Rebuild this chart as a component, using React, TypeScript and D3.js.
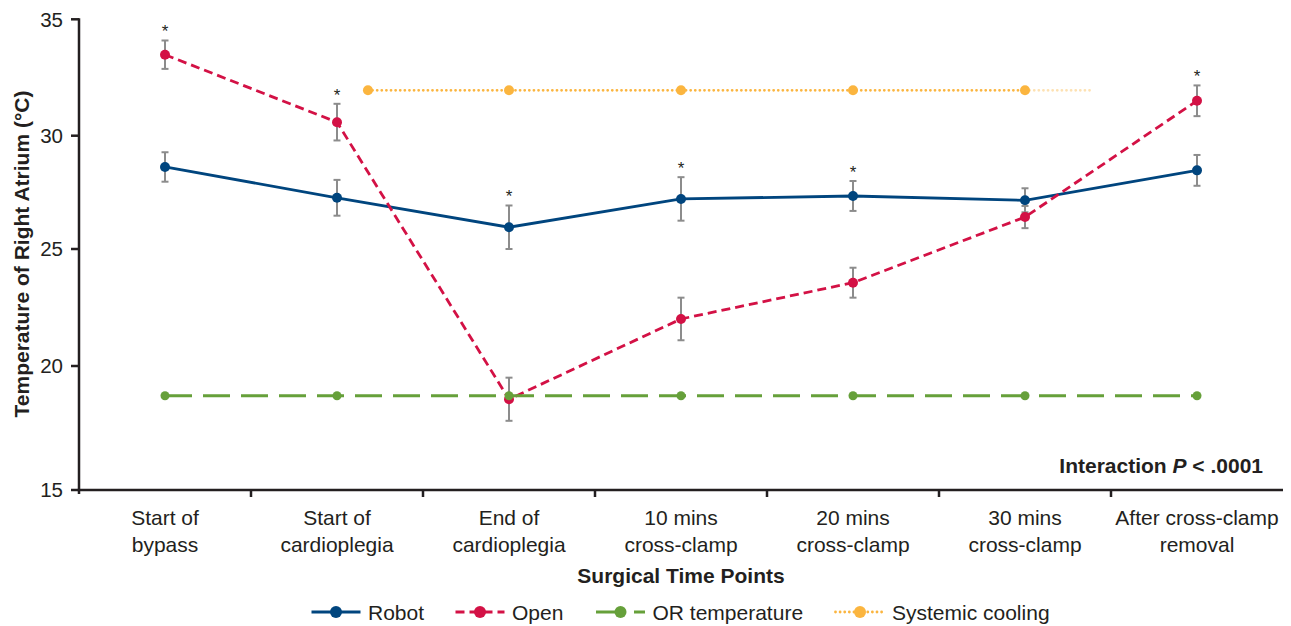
import React from 'react';
import * as d3 from 'd3';

const categories: string[][] = [
  ['Start of', 'bypass'],
  ['Start of', 'cardioplegia'],
  ['End of', 'cardioplegia'],
  ['10 mins', 'cross-clamp'],
  ['20 mins', 'cross-clamp'],
  ['30 mins', 'cross-clamp'],
  ['After cross-clamp', 'removal'],
];
const robotMean = [28.62, 27.26, 25.96, 27.21, 27.34, 27.15, 28.47];
const robotErr = [0.65, 0.79, 0.96, 0.96, 0.66, 0.53, 0.68];
const openMean = [33.48, 30.58, 18.66, 22.01, 23.56, 26.41, 31.5];
const openErr = [0.61, 0.79, 0.87, 0.91, 0.64, 0.49, 0.66];
const orTemp = [18.8, 18.8, 18.8, 18.8, 18.8, 18.8, 18.8];
const coolingPos = [1.18, 2, 3, 4, 5];
const coolingVal = [31.95, 31.95, 31.95, 31.95, 31.95];
const coolingTailPos = [5, 5.39];
const coolingTailVal = [31.95, 31.95];
const significant = [0, 1, 2, 3, 4, 6];
const yTicks = [15, 20, 25, 30, 35];

const FONT = '"Liberation Sans", Arial, Helvetica, sans-serif';
const TXT = '#231f20';
const C_ROBOT = '#00457e';
const C_OPEN = '#d31145';
const C_OR = '#66a03a';
const C_COOL = '#fbb53f';
const C_ERR = '#8c8c8c';

export default function App() {
  const x = d3.scaleLinear().domain([-0.5, 6.5]).range([79, 1283]);
  const y = d3.scaleLinear().domain(yTicks).range([490, 366, 249, 135.7, 19.3]);
  const line = d3.line<[number, number]>().x((d) => x(d[0])).y((d) => y(d[1]));
  const idx = categories.map((_, i) => i);

  const robotPts: [number, number][] = idx.map((i) => [i, robotMean[i]]);
  const openPts: [number, number][] = idx.map((i) => [i, openMean[i]]);
  const orPts: [number, number][] = idx.map((i) => [i, orTemp[i]]);
  const coolPts: [number, number][] = coolingPos.map((p, i) => [p, coolingVal[i]]);
  const coolTail: [number, number][] = coolingTailPos.map((p, i) => [p, coolingTailVal[i]]);

  const errBars = (mean: number[], err: number[], key: string) =>
    idx.map((i) => {
      const cx = x(i);
      const y1 = y(mean[i] + err[i]);
      const y2 = y(mean[i] - err[i]);
      return (
        <g key={key + i} stroke={C_ERR} strokeWidth={2}>
          <line x1={cx} x2={cx} y1={y1} y2={y2} />
          <line x1={cx - 3.5} x2={cx + 3.5} y1={y1} y2={y1} />
          <line x1={cx - 3.5} x2={cx + 3.5} y1={y2} y2={y2} />
        </g>
      );
    });

  const legendItems = [
    { label: 'Robot', color: C_ROBOT, dash: undefined as string | undefined, r: 6, x0: 311.5, cap: 'butt', w: 2.8 },
    { label: 'Open', color: C_OPEN, dash: '9,5', r: 6, x0: 455.5, cap: 'butt', w: 2.8 },
    { label: 'OR temperature', color: C_OR, dash: '27,11', r: 6, x0: 596, cap: 'butt', w: 2.8 },
    { label: 'Systemic cooling', color: C_COOL, dash: '0.01,4.6', r: 6, x0: 835.5, cap: 'round', w: 2.8 },
  ];

  return (
    <svg
      width={1291}
      height={626}
      style={{ position: 'absolute', left: 0, top: 0, background: '#fff' }}
      fontFamily={FONT}
    >
      <rect x={0} y={0} width={1291} height={626} fill="#fff" />

      {/* Axes */}
      <g stroke={TXT} strokeWidth={2.5} fill="none">
        <line x1={x(-0.5)} x2={x(-0.5)} y1={y(35) - 1} y2={y(15) + 4} />
        <line x1={x(-0.5) - 1.2} x2={x(6.5)} y1={y(15)} y2={y(15)} />
        {yTicks.map((t) => (
          <line key={'yt' + t} x1={x(-0.5) - 8} x2={x(-0.5)} y1={y(t)} y2={y(t)} />
        ))}
        {[0.5, 1.5, 2.5, 3.5, 4.5, 5.5].map((b) => (
          <line key={'xt' + b} x1={x(b)} x2={x(b)} y1={y(15)} y2={y(15) + 7} />
        ))}
      </g>
      {yTicks.map((t) => (
        <text key={'yl' + t} x={63} y={y(t)} dy="0.36em" textAnchor="end" fontSize={20.5} fill={TXT}>
          {t}
        </text>
      ))}
      {categories.map((c, i) => (
        <text key={'xl' + i} x={x(i)} textAnchor="middle" fontSize={21} fill={TXT}>
          <tspan x={x(i)} y={525}>{c[0]}</tspan>
          <tspan x={x(i)} y={552}>{c[1]}</tspan>
        </text>
      ))}
      <text x={x(3)} y={583} textAnchor="middle" fontSize={21} fontWeight="bold" fill={TXT}>
        Surgical Time Points
      </text>
      <text
        transform="translate(29,254) rotate(-90)"
        textAnchor="middle"
        fontSize={21}
        fontWeight="bold"
        fill={TXT}
      >
        Temperature of Right Atrium (°C)
      </text>
      <text x={1263} y={473} textAnchor="end" fontSize={21} fontWeight="bold" fill={TXT}>
        Interaction <tspan fontStyle="italic">P</tspan> {'< .0001'}
      </text>

      {/* Systemic cooling */}
      <path d={line(coolTail) || ''} fill="none" stroke={C_COOL} strokeOpacity={0.4} strokeWidth={2.8} strokeDasharray="0.01,4.6" strokeLinecap="round" />
      <path d={line(coolPts) || ''} fill="none" stroke={C_COOL} strokeWidth={2.8} strokeDasharray="0.01,4.6" strokeLinecap="round" />
      {coolPts.map((p, i) => (
        <circle key={'cc' + i} cx={x(p[0])} cy={y(p[1])} r={5} fill={C_COOL} />
      ))}

      {/* Robot */}
      {errBars(robotMean, robotErr, 're')}
      <path d={line(robotPts) || ''} fill="none" stroke={C_ROBOT} strokeWidth={2.8} />
      {robotPts.map((p, i) => (
        <circle key={'rc' + i} cx={x(p[0])} cy={y(p[1])} r={5} fill={C_ROBOT} />
      ))}

      {/* Open */}
      {errBars(openMean, openErr, 'oe')}
      <path d={line(openPts) || ''} fill="none" stroke={C_OPEN} strokeWidth={2.8} strokeDasharray="9,5" />
      {openPts.map((p, i) => (
        <circle key={'oc' + i} cx={x(p[0])} cy={y(p[1])} r={5} fill={C_OPEN} />
      ))}

      {/* OR temperature */}
      <path d={line(orPts) || ''} fill="none" stroke={C_OR} strokeWidth={2.8} strokeDasharray="27,11" />
      {orPts.map((p, i) => (
        <circle key={'gc' + i} cx={x(p[0])} cy={y(p[1])} r={4.5} fill={C_OR} />
      ))}

      {/* Significance */}
      {significant.map((i) => {
        const top = Math.max(robotMean[i] + robotErr[i], openMean[i] + openErr[i]);
        return (
          <text key={'s' + i} x={x(i)} y={y(top) - 3} textAnchor="middle" fontSize={17} fill={TXT}>
            *
          </text>
        );
      })}

      {/* Legend */}
      {legendItems.map((it) => (
        <g key={it.label}>
          <line
            x1={it.x0}
            x2={it.x0 + 49}
            y1={612}
            y2={612}
            stroke={it.color}
            strokeWidth={it.w}
            strokeDasharray={it.dash}
            strokeLinecap={it.cap as any}
          />
          <circle cx={it.x0 + 24.5} cy={612} r={it.r} fill={it.color} />
          <text x={it.x0 + 56.5} y={612} dy="0.36em" fontSize={21} fill={TXT}>
            {it.label}
          </text>
        </g>
      ))}
    </svg>
  );
}
